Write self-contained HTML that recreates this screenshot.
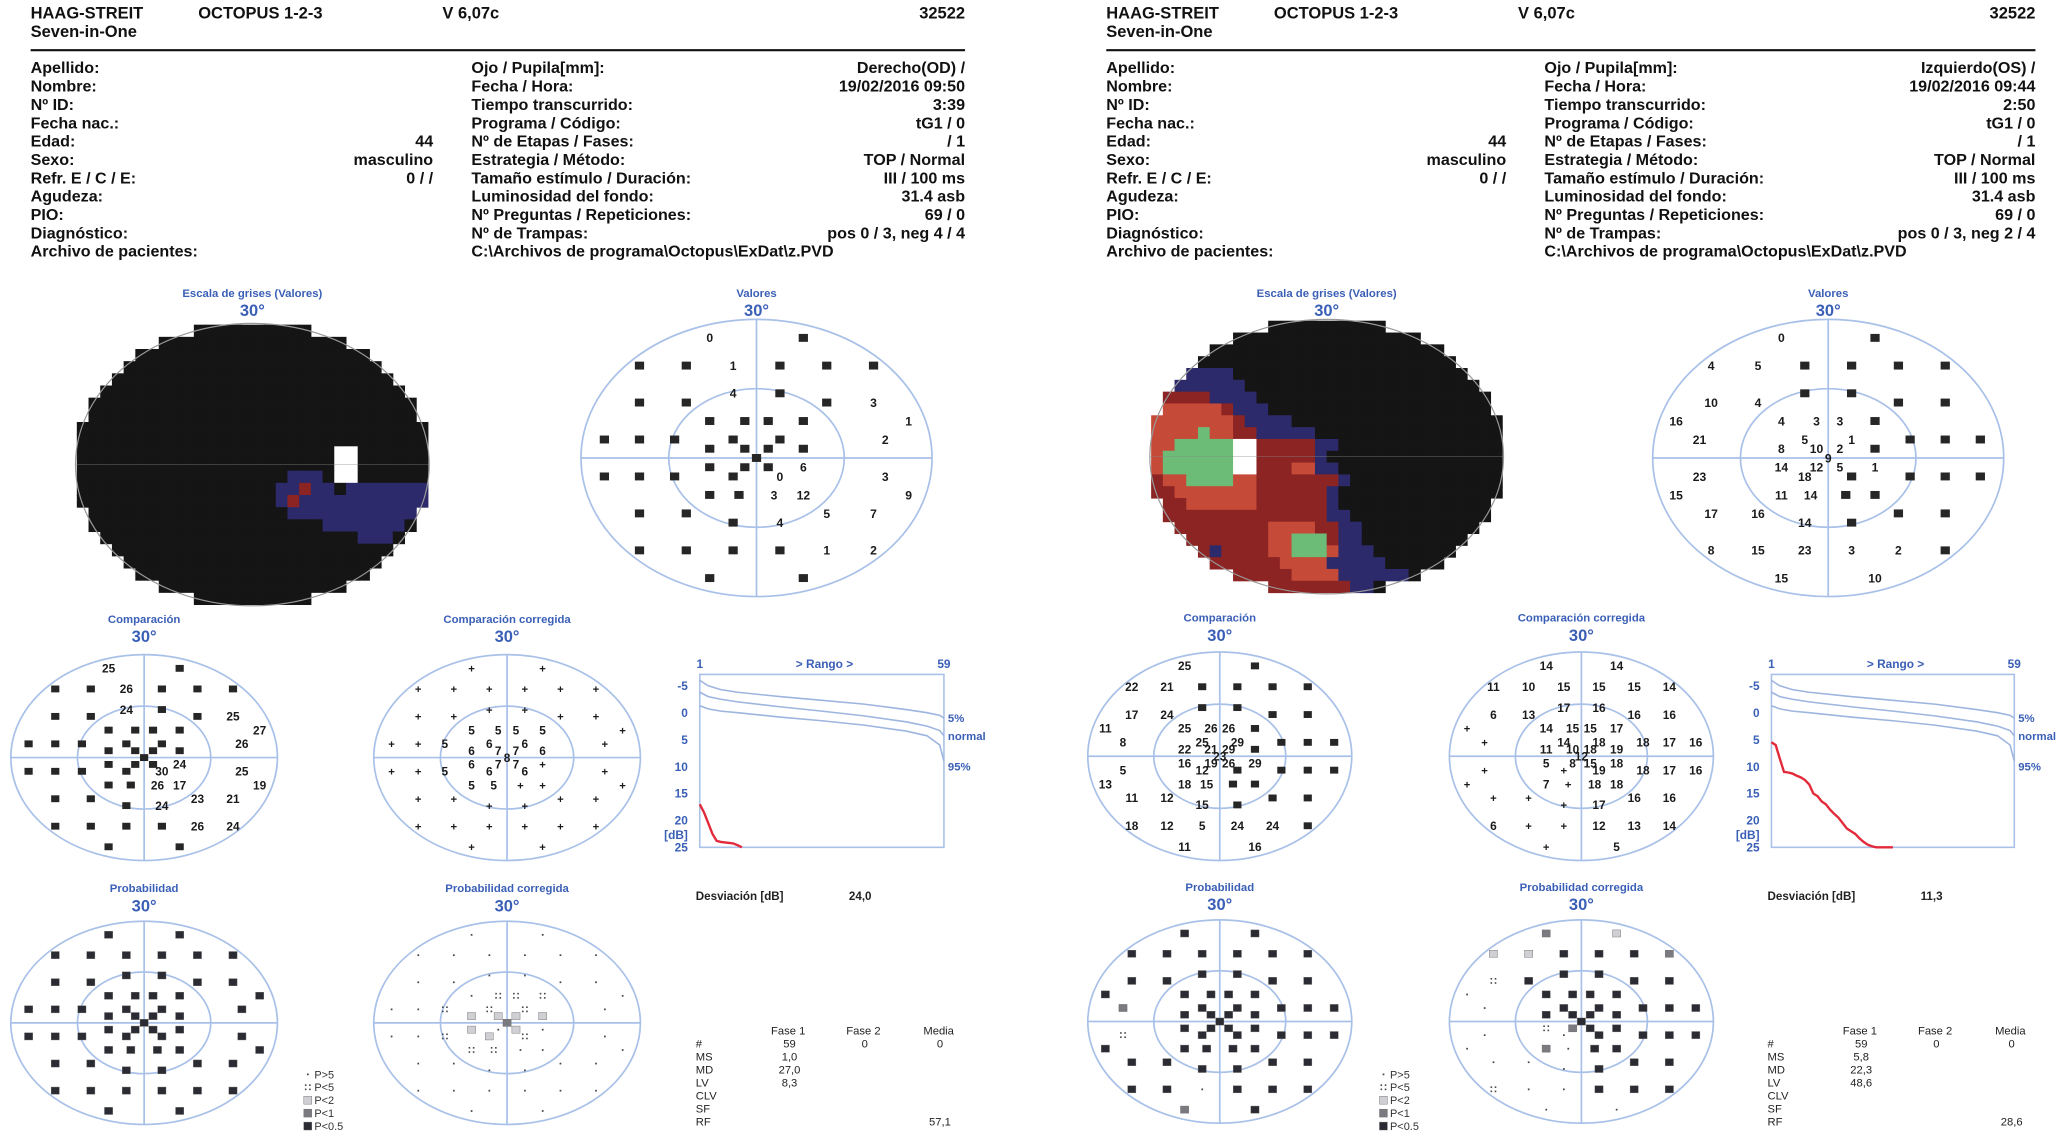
<!DOCTYPE html>
<html lang="es">
<head>
<meta charset="utf-8">
<title>Octopus 1-2-3 perimetría</title>
<style>
  html,body{margin:0;padding:0;background:#fff;}
  body{width:2070px;height:1139px;overflow:hidden;}
  svg{display:block;font-family:"Liberation Sans",Arial,sans-serif;}
</style>
</head>
<body>
<svg id="report" width="2070" height="1139" viewBox="0 0 1568 863" xmlns="http://www.w3.org/2000/svg">
  <rect x="0" y="0" width="1568" height="863" fill="#fff"/>
</svg>
<script>
// ---------- Test point pattern (degrees, G program) ----------
const patternX = [-8,8, -20,-12,-4,4,12,20, -4,4, -20,-12,12,20, -8,-2,2,8,26, -26,-20,-14,-4,4,22, -8,-2,2,8, 0, -8,-2,2,8, -26,-20,-14,-4,4,22, -8,-3,3,8,26, -20,-12,12,20, -4,4, -20,-12,-4,4,12,20, -8,8];
const patternY = [-26,-26, -20,-20,-20,-20,-20,-20, -14,-14, -12,-12,-12,-12, -8,-8,-8,-8,-8, -4,-4,-4,-4,-4,-4, -2,-2,-2,-2, 0, 2,2,2,2, 4,4,4,4,4,4, 8,8,8,8,8, 12,12,12,12, 14,14, 20,20,20,20,20,20, 26,26];

// ---------- Values per chart ("" = black square) ----------
const leftValores = ["0","", "","","1","","","", "4","", "","","","3", "","","","","1", "","","","","","2", "","","","", "", "","","","6", "","","","","0","3", "","","3","12","9", "","","5","7", "","4", "","","","","1","2", "",""];
const rightValores = ["","0", "","","","","5","4", "","", "","","4","10", "","3","3","4","16", "","","","1","5","21", "","2","10","8", "9", "1","5","12","14", "","","","","18","23", "","","14","11","15", "","","16","17", "","14", "","2","3","23","15","8", "10","15"];
const leftComp = ["25","", "","","26","","","", "24","", "","","","25", "","","","","27", "","","","","","26", "","","","", "", "","","","24", "","","","","30","25", "","","26","17","19", "","","23","21", "","24", "","","","","26","24", "",""];
const rightComp = ["","25", "","","","","21","22", "","", "","","24","17", "","26","26","25","11", "","","","29","25","8", "","29","21","22", "23", "29","26","19","16", "","","","","12","5", "","","15","18","13", "","","12","11", "","15", "","24","24","5","12","18", "16","11"];
const leftCompCorr = ["+","+", "+","+","+","+","+","+", "+","+", "+","+","+","+", "5","5","5","5","+", "+","+","5","6","6","+", "6","7","7","6", "8", "6","7","7","+", "+","+","5","6","6","+", "5","5","+","+","+", "+","+","+","+", "+","+", "+","+","+","+","+","+", "+","+"];
const rightCompCorr = ["14","14", "14","15","15","15","10","11", "16","17", "16","16","13","6", "17","15","15","14","+", "16","17","18","18","14","+", "19","18","10","11", "12", "18","15","8","5", "16","17","18","19","+","+", "18","18","+","7","+", "16","16","+","+", "17","+", "14","13","12","+","+","6", "5","+"];
// probability codes: d=P<0.5, g=P<1, l=P<2, :=P<5, .=P>5
const leftProb = ["d","d", "d","d","d","d","d","d", "d","d", "d","d","d","d", "d","d","d","d","d", "d","d","d","d","d","d", "d","d","d","d", "d", "d","d","d","d", "d","d","d","d","d","d", "d","d","d","d","d", "d","d","d","d", "d","d", "d","d","d","d","d","d", "d","d"];
const leftProbCorr = [".",".", ".",".",".",".",".",".", ".",".", ".",".",".",".", ".",":",":",":",".", ".",".",":",":",":",".", "l","l","l","l", "g", "l",".","l",".", ".",".",":","l",":",".", ":",":",".",".",".", ".",".",".",".", ".",".", ".",".",".",".",".",".", ".","."];
const rightProb = ["d","d", "d","d","d","d","d","d", "d","d", "d","d","d","d", "d","d","d","d","d", "d","d","d","d","d","g", "d","d","d","d", "d", "d","d","d","d", "d","d","d","d","d",":", "d","d","d","d","d", "d","d","d","d", "d","d", "d","d","d",".","d","d", "d","g"];
const rightProbCorr = ["l","g", "g","d","d","d","l","l", "d","d", "d","d","d",":", "d","d","d","d",".", "d","d","d","d","d",".", "d","d","d","d", "d", "d","d","g",":", "d","d","d","d",".",".", "d","d",".","g",".", "d","d",".",".", "d",".", "d","d","d",".",".",":", ".","."];

// ---------- Defect curves (dB by rank) ----------
const normRanks = [1,3,6,10,20,30,40,50,55,58,59];
const norm5 = [-6,-5,-4.3,-3.8,-3,-2.3,-1.6,-0.6,0,0.5,1];
const normMid = [-3.8,-3,-2.5,-2,-1.1,-0.3,0.6,1.7,2.5,3.3,4.3];
const norm95 = [-1.3,-0.7,-0.3,0,0.8,1.5,2.3,3.4,4.3,6,9];
const leftDefect = [17,18.5,20.5,22.5,23.8,24,24.1,24.2,24.3,24.6,25];
const rightDefect = [5.5,6,8.5,11,11.1,11.3,11.7,12,12.5,13.3,15,15.5,16.5,17,18,18.8,19.5,20.5,21.5,22,22.5,23.3,24,24.5,24.8,25,25,25,25,25];
const yTicks = [-5,0,5,10,15,20,25];

// ---------- Grayscale maps (30 cols x 23 rows; '.' = default black) ----------
const leftGray = [
"..............................","..............................","..............................","..............................",
"..............................","..............................","..............................","..............................",
"..............................","..............................","......................ww......","......................ww......",
"..................bbb.ww......",".................bbrbb.bbbbbbb",".................brbbbbbbbbbbb","..................bbbbbbbbbbb.",
".....................bbbbbbb..","........................bbb...","..............................","..............................",
"..............................","..............................",".............................."];
const rightGray = [
"..............................","..............................","..............................","..............................",
"...bbbb.......................","..bbbbbb......................",".rrrrbbbb.....................","oooooorbbb....................",
"ooooooorbbbb..................","oooogoorrbbbbb................","oogggggwwrrrrrbb..............","oggggggwwrrrrrb...............",
"oggggggwwrrroobb..............","rooggggoorrrrrrrb.............","rrooooooorrrrrrb..............","rrroooooorrrrrrb..............",
"rrrrrrrrrrrrrrrbb.............","rrrrrrrrrroooorrbb............","rrrrrrrrrroogggrbb............","rrrrrbrrrroogggobbb...........",
"rrrrrrrrrrroooobbbbb..........","rrrrrrrrrrrroooobbbbbb........","rrrrrrrrrrrrrrrrrbb..........."];

// ---------- Text data ----------
const leftLabels = ["Apellido:","Nombre:","Nº ID:","Fecha nac.:","Edad:","Sexo:","Refr. E / C / E:","Agudeza:","PIO:","Diagnóstico:","Archivo de pacientes:"];
const leftVals = ["","","","","44","masculino","0 /  /","","","",""];
const rightLabels = ["Ojo / Pupila[mm]:","Fecha / Hora:","Tiempo transcurrido:","Programa / Código:","Nº de Etapas / Fases:","Estrategia / Método:","Tamaño estímulo / Duración:","Luminosidad del fondo:","Nº Preguntas / Repeticiones:","Nº de Trampas:","C:\\Archivos de programa\\Octopus\\ExDat\\z.PVD"];
const odVals = ["Derecho(OD) /","19/02/2016  09:50","3:39","tG1 / 0","/ 1","TOP / Normal","III / 100 ms","31.4 asb","69 / 0","pos 0 / 3, neg 4 / 4",""];
const osVals = ["Izquierdo(OS) /","19/02/2016  09:44","2:50","tG1 / 0","/ 1","TOP / Normal","III / 100 ms","31.4 asb","69 / 0","pos 0 / 3, neg 2 / 4",""];
const statRows = ["#","MS","MD","LV","CLV","SF","RF"];
const odFase1 = ["59","1,0","27,0","8,3","","",""];
const osFase1 = ["59","5,8","22,3","48,6","","",""];
const fase2 = ["0","","","","","",""];
const odMedia = ["0","","","","","","57,1"];
const osMedia = ["0","","","","","","28,6"];
const legendLabels = ["P>5","P<5","P<2","P<1","P<0.5"];
const legendCodes = [".",":","l","g","d"];

// ---------- Helpers ----------
const NS = "http://www.w3.org/2000/svg";
const svg = document.getElementById("report");
const BLUE = "#3a5fb6", RING = "#a9c1e8";
function mk(tag, attrs, parent){
  const e = document.createElementNS(NS, tag);
  for (const k in attrs) e.setAttribute(k, attrs[k]);
  (parent || svg).appendChild(e);
  return e;
}
function txt(parent, x, y, s, size, anchor, fill, weight){
  const t = mk("text", {x:x, y:y, "font-size":size, "text-anchor":anchor||"start", fill:fill||"#111", "font-weight":weight||"normal"}, parent);
  t.textContent = s;
  return t;
}
function group(name){
  const g = mk("g", {});
  
  
  return g;
}

// ---------- Header ----------
function drawHeader(x0, x1, xMidLabel, xLeftVal, od, vals, side){
  const g = group(side + "-header");
  const t1 = txt(g, x0, 14, "HAAG-STREIT", 12.5, "start", "#111", "bold");
  
  
  const t2 = txt(g, x0, 28, "Seven-in-One", 12.5, "start", "#111", "bold");
  
  
  const t3 = txt(g, x0 + 127, 14, "OCTOPUS  1-2-3", 12.5, "start", "#111", "bold");
  
  
  const t4 = txt(g, x0 + 312, 14, "V 6,07c", 12.5, "start", "#111", "bold");
  
  
  const t5 = txt(g, x1, 14, "32522", 12.5, "end", "#111", "bold");
  
  
  const ln = mk("line", {x1:x0, y1:38, x2:x1, y2:38, stroke:"#111", "stroke-width":1.6}, g);
  
  
  for (let i = 0; i < leftLabels.length; i++){
    const y = 55.5 + i * 13.9;
    const a = txt(g, x0, y, leftLabels[i], 12.2, "start", "#111", "bold");
    
    
    if (leftVals[i]){
      const b = txt(g, xLeftVal, y, leftVals[i], 12.2, "end", "#111", "bold");
      
      
    }
    const c = txt(g, xMidLabel, y, rightLabels[i], 12.2, "start", "#111", "bold");
    
    
    if (vals[i]){
      const d = txt(g, x1, y, vals[i], 12.2, "end", "#111", "bold");
      
      
    }
  }
}
drawHeader(23, 731, 357, 328, true, odVals, "od");
drawHeader(838, 1542, 1170, 1141, false, osVals, "os");

// ---------- Chart titles ----------
function drawTitle(g, cx, y, title){
  const t = txt(g, cx, y, title, 8.6, "middle", BLUE, "bold");
  
  
  const d = txt(g, cx, y + 14.5, "30°", 12.5, "middle", BLUE, "bold");
  
  
}

// ---------- Grayscale map ----------
const GRAY_COLORS = {k:"#151515", b:"#2c2a6a", r:"#8c2424", o:"#c64a38", g:"#6cbc78", w:"#ffffff"};
function drawGray(name, cx, cy, rx, ry, map){
  const g = group(name);
  drawTitle(g, cx, 225, "Escala de grises (Valores)");
  const cols = 30, rows = 23;
  const cw = 2 * rx / cols, ch = 2 * ry / rows;
  for (let r = 0; r < rows; r++){
    for (let c = 0; c < cols; c++){
      const px = cx - rx + (c + 0.5) * cw, py = cy - ry + (r + 0.5) * ch;
      const d = Math.pow((px - cx) / rx, 2) + Math.pow((py - cy) / ry, 2);
      if (d > 1.02) continue;
      const code = map[r][c] === "." ? "k" : map[r][c];
      const cell = mk("rect", {x:(cx - rx + c * cw).toFixed(2), y:(cy - ry + r * ch).toFixed(2), width:(cw + 0.4).toFixed(2), height:(ch + 0.4).toFixed(2), fill:GRAY_COLORS[code]}, g);
      
      
    }
  }
  const e = mk("ellipse", {cx:cx, cy:cy, rx:rx + 1, ry:ry + 1, fill:"none", stroke:"#999", "stroke-width":0.9}, g);
  
  
  const h = mk("line", {x1:cx - rx - 1, y1:cy, x2:cx + rx + 1, y2:cy, stroke:"#888", "stroke-width":0.5, opacity:0.6}, g);
  
  
}
drawGray("od-grayscale-map", 191, 352, 133, 106, leftGray);
drawGray("os-grayscale-map", 1005, 346, 133, 103, rightGray);

// ---------- Field plots ----------
function fieldFrame(g, cx, cy, rx, ry){
  const e1 = mk("ellipse", {cx:cx, cy:cy, rx:rx, ry:ry, fill:"none", stroke:RING, "stroke-width":1.3}, g);
  
  
  const e2 = mk("ellipse", {cx:cx, cy:cy, rx:rx / 2, ry:ry / 2, fill:"none", stroke:RING, "stroke-width":1.3}, g);
  
  
  const h = mk("line", {x1:cx - rx, y1:cy, x2:cx + rx, y2:cy, stroke:RING, "stroke-width":1.3}, g);
  
  
  const v = mk("line", {x1:cx, y1:cy - ry, x2:cx, y2:cy + ry, stroke:RING, "stroke-width":1.3}, g);
  
  
}
function px(cx, rx, deg, mirror){ return cx + (mirror ? -1 : 1) * deg / 30 * rx; }
function py(cy, ry, deg){ return cy + deg / 30 * ry; }

function drawValues(name, title, cx, cy, rx, ry, mirror, labels, big){
  const g = group(name);
  drawTitle(g, cx, big ? 225 : cy - 102, title);
  fieldFrame(g, cx, cy, rx, ry);
  const sw = big ? 7 : 6.2, sh = big ? 6 : 5.2, fs = big ? 9.2 : 9;
  for (let i = 0; i < patternX.length; i++){
    const x = px(cx, rx, patternX[i], mirror), y = py(cy, ry, patternY[i]);
    const lab = labels[i];
    if (lab === ""){
      const s = mk("rect", {x:x - sw / 2, y:y - sh / 2, width:sw, height:sh, fill:"#262626"}, g);
      
      
    } else {
      const t = txt(g, x, y + fs * 0.36, lab, lab === "+" ? fs * 0.95 : fs, "middle", "#1a1a1a", "bold");
      
      
    }
  }
}
function probMark(g, x, y, code, w, h){
  if (code === "."){
    const d = mk("rect", {x:x - 0.6, y:y - 0.6, width:1.3, height:1.3, fill:"#444"}, g);
    
    
  } else if (code === ":"){
    const offs = [[-1.6,-1.6],[1.6,-1.6],[-1.6,1.6],[1.6,1.6]];
    for (const o of offs){
      const d = mk("rect", {x:x + o[0] - 0.6, y:y + o[1] - 0.6, width:1.2, height:1.2, fill:"#444"}, g);
      
      
    }
  } else {
    const fill = code === "d" ? "#2b2b33" : code === "g" ? "#7a7a80" : "#cfcfd4";
    const s = mk("rect", {x:x - w / 2, y:y - h / 2, width:w, height:h, fill:fill, stroke:"#666", "stroke-width":0.3}, g);
    
    
  }
}
function drawProb(name, title, cx, cy, rx, ry, mirror, codes){
  const g = group(name);
  drawTitle(g, cx, cy - 99, title);
  fieldFrame(g, cx, cy, rx, ry);
  for (let i = 0; i < patternX.length; i++){
    probMark(g, px(cx, rx, patternX[i], mirror), py(cy, ry, patternY[i]), codes[i], 6.2, 5.4);
  }
}

drawValues("od-valores", "Valores", 573, 347, 133, 105, false, leftValores, true);
drawValues("os-valores", "Valores", 1385, 347, 133, 105, true, rightValores, true);
drawValues("od-comparacion", "Comparación", 109, 574, 101, 78, false, leftComp, false);
drawValues("os-comparacion", "Comparación", 924, 573, 100, 79, true, rightComp, false);
drawValues("od-comparacion-corregida", "Comparación corregida", 384, 574, 101, 78, false, leftCompCorr, false);
drawValues("os-comparacion-corregida", "Comparación corregida", 1198, 573, 100, 79, true, rightCompCorr, false);
drawProb("od-probabilidad", "Probabilidad", 109, 775, 101, 77, false, leftProb);
drawProb("os-probabilidad", "Probabilidad", 924, 774, 100, 77, true, rightProb);
drawProb("od-probabilidad-corregida", "Probabilidad corregida", 384, 775, 101, 77, false, leftProbCorr);
drawProb("os-probabilidad-corregida", "Probabilidad corregida", 1198, 774, 100, 77, true, rightProbCorr);

// ---------- Legends ----------
function drawLegend(name, x, y0){
  const g = group(name);
  for (let i = 0; i < legendLabels.length; i++){
    const y = y0 + i * 9.8;
    probMark(g, x, y, legendCodes[i], 6, 6);
    const t = txt(g, x + 5, y + 3, legendLabels[i], 8.3, "start", "#333");
    
    
  }
}
drawLegend("od-probability-legend", 233, 814);
drawLegend("os-probability-legend", 1048, 814);

// ---------- Defect (Bebie) curves ----------
function drawCurve(name, x0, x1, defects){
  const g = group(name);
  const yTop = 511, yMin = -5, yAt = 519.6, perDb = 4.08;
  const yS = v => yAt + (v - yMin) * perDb;
  const xS = r => x0 + (r - 1) / 58 * (x1 - x0);
  const box = mk("rect", {x:x0, y:yTop, width:x1 - x0, height:yS(25) - yTop, fill:"none", stroke:RING, "stroke-width":1.2}, g);
  
  
  for (const v of yTicks){
    const t = txt(g, x0 - 9, yS(v) + 3.2, String(v), 9, "end", BLUE, "bold");
    
    
  }
  const u = txt(g, x0 - 9, yS(22.7) + 3.2, "[dB]", 9, "end", BLUE, "bold");
  
  
  const a = txt(g, x0, yTop - 5, "1", 9, "middle", BLUE, "bold");
  
  
  const b = txt(g, (x0 + x1) / 2 + 2, yTop - 5, ">  Rango  >", 9, "middle", BLUE, "bold");
  
  
  const c = txt(g, x1, yTop - 5, "59", 9, "middle", BLUE, "bold");
  
  
  const norms = [norm5, normMid, norm95];
  const names = ["5%", "normal", "95%"];
  for (let k = 0; k < 3; k++){
    const pts = normRanks.map((r, i) => xS(r).toFixed(1) + "," + yS(norms[k][i]).toFixed(1)).join(" ");
    const pl = mk("polyline", {points:pts, fill:"none", stroke:"#9db5df", "stroke-width":1.2}, g);
    
    
    const lt = txt(g, x1 + 3, yS(norms[k][norms[k].length - 1]) + 3 + (k === 2 ? 4 : 0), names[k], 8.6, "start", BLUE, "bold");
    
    
  }
  const dpts = defects.map((v, i) => xS(i + 1).toFixed(1) + "," + yS(v).toFixed(1)).join(" ");
  const dl = mk("polyline", {points:dpts, fill:"none", stroke:"#e22a3a", "stroke-width":1.8}, g);
  
  
}
drawCurve("od-defect-curve", 530, 715, leftDefect);
drawCurve("os-defect-curve", 1342, 1526, rightDefect);

// ---------- Stats ----------
function drawStats(name, x0, dev, fase1, media){
  const g = group(name);
  const d1 = txt(g, x0, 682, "Desviación [dB]", 8.8, "start", "#222", "bold");
  
  
  const d2 = txt(g, x0 + 116, 682, dev, 8.8, "start", "#222", "bold");
  
  
  const heads = ["Fase 1", "Fase 2", "Media"];
  const hx = [x0 + 70, x0 + 127, x0 + 184];
  for (let k = 0; k < 3; k++){
    const h = txt(g, hx[k], 784, heads[k], 8.5, "middle", "#222");
    
    
  }
  for (let i = 0; i < statRows.length; i++){
    const y = 793.5 + i * 9.9;
    const l = txt(g, x0, y, statRows[i], 8.5, "start", "#222");
    
    
    const cols = [fase1[i], fase2[i], media[i]];
    for (let k = 0; k < 3; k++){
      if (!cols[k]) continue;
      const v = txt(g, hx[k] + 1, y, cols[k], 8.5, "middle", "#222");
      
      
    }
  }
}
drawStats("od-stats", 527, "24,0", odFase1, odMedia);
drawStats("os-stats", 1339, "11,3", osFase1, osMedia);
</script>
</body>
</html>
